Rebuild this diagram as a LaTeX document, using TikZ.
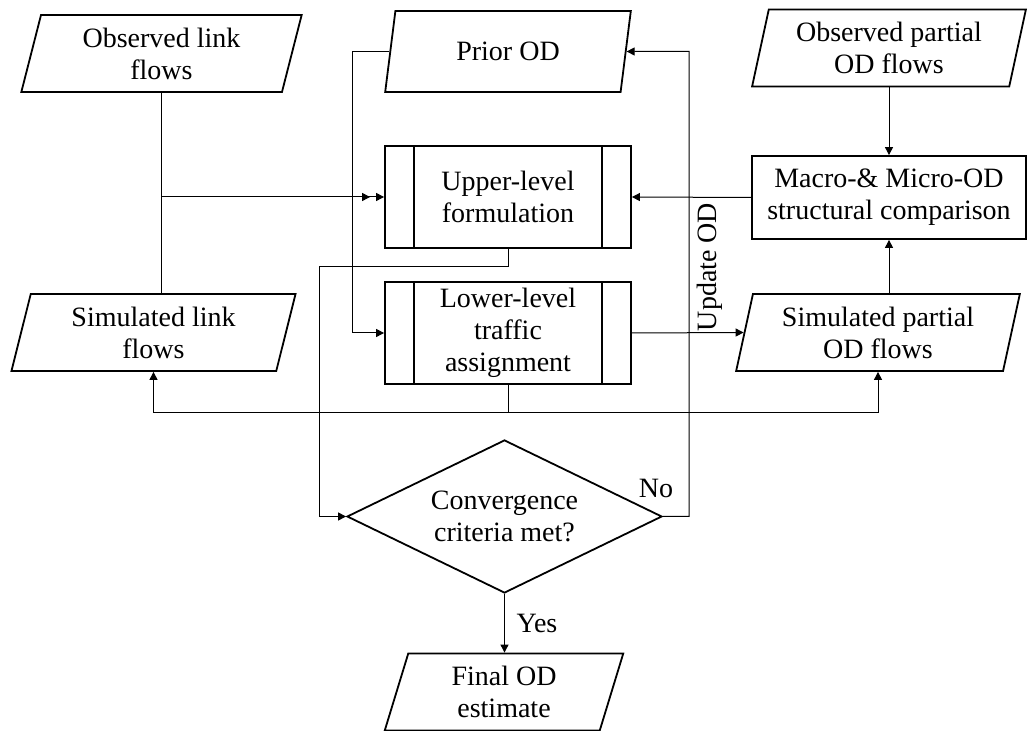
\documentclass[tikz,border=0pt]{standalone}
\usepackage{fontspec}
\setmainfont{Liberation Serif}
\usetikzlibrary{shapes.geometric, arrows.meta, positioning}

\tikzset{
  io/.style={trapezium, trapezium left angle=76, trapezium right angle=104,
    trapezium stretches=true, draw, line width=0.9pt, align=center,
    inner sep=0pt, minimum height=38.5pt},
  proc/.style={rectangle, draw, line width=0.9pt, align=center,
    minimum width=123pt, minimum height=51pt, inner sep=0pt},
  decide/.style={diamond, draw, line width=0.9pt, align=center, aspect=2,
    inner sep=0pt, minimum width=157.5pt, minimum height=76.5pt},
  conn/.style={-{Triangle[length=4pt,width=4pt]}, line width=0.5pt},
}

\begin{document}
\begin{tikzpicture}[x=0.5pt,y=-0.5pt,font=\fontsize{14}{16}\selectfont]
\useasboundingbox (0,0) rectangle (1028,731);

% inputs and outputs
\node[io, minimum width=141.5pt] (obsLink) at (161.5,53.5) {Observed link\\flows};
\node[io, minimum width=123pt, minimum height=40.5pt] (prior) at (508,51.5) {Prior OD};
\node[io, minimum width=137pt] (obsPart) at (889,48) {Observed partial\\OD flows};
\node[io, minimum width=142.5pt] (simLink) at (153.5,332.5) {Simulated link\\flows};
\node[io, minimum width=142pt] (simPart) at (878,332.5) {Simulated partial\\OD flows};
\node[io, minimum width=120pt] (final) at (504,692) {Final OD\\estimate};

% processes
\node[proc] (upper) at (508,197) {Upper-level\\formulation};
\node[proc] (lower) at (508,333) {Lower-level\\traffic\\assignment};
\node[proc, minimum width=137pt, minimum height=41.5pt] (macro) at (889,197.5) {Macro-\& Micro-OD\\structural comparison};
\node[decide] (conv) at (504.5,516.5) {Convergence\\criteria met?};

\foreach \n in {upper,lower}{
  \draw[line width=0.9pt] ([xshift=15pt]\n.north west) -- ([xshift=15pt]\n.south west)
    ([xshift=-15pt]\n.north east) -- ([xshift=-15pt]\n.south east);
}

% bends
\coordinate (loopL) at (319,267);
\coordinate (loopR) at (689,51.5);

% connectors
\draw[conn] (obsLink.south -| obsLink.center) |- ([xshift=-7pt]upper.west);
\draw[conn] (simLink.north -| obsLink.center) |- (upper.west);
\draw[conn] (prior.west) -- ++(-37,0) |- (lower.west);
\draw[conn] (upper.south) |- (loopL) |- (conv.west);
\draw[conn] (conv.east) -| (loopR) -- (prior.east);
\draw[conn] (lower.east) -- (simPart.west);
\draw[conn] (lower.south) -- ++(0,28) -| (simLink.south -| simLink.center);
\draw[conn] (lower.south) -- ++(0,28) -| (simPart.south -| simPart.center);
\draw[conn] (obsPart.south -| macro.north) -- (macro.north);
\draw[conn] (simPart.north -| macro.south) -- (macro.south);
\draw[conn] (macro.west) -- (upper.east);
\draw[conn] (conv.south) -- (final.north -| conv.south);

% labels
\node (noLbl) at (656,488) {No};
\node (yesLbl) at (537,623) {Yes};
\node[rotate=90] (updLbl) at (710,267) {Update OD};
\end{tikzpicture}
\end{document}
